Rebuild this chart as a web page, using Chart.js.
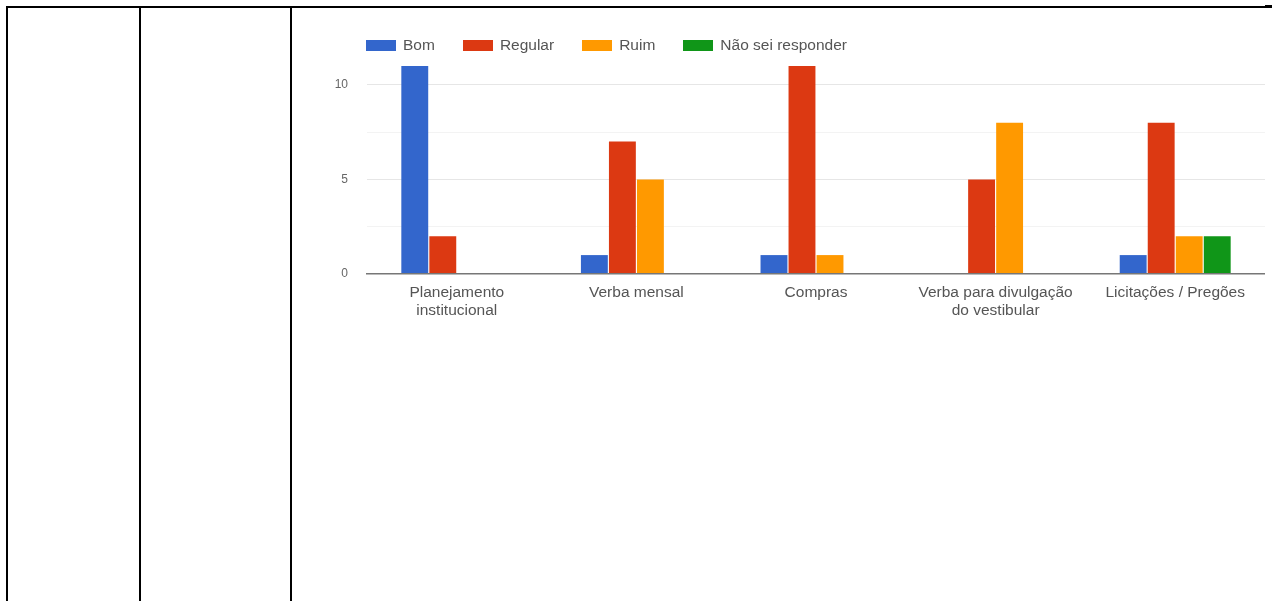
<!DOCTYPE html>
<html>
<head>
<meta charset="utf-8">
<script src="https://cdn.jsdelivr.net/npm/chart.js@4/dist/chart.umd.min.js"></script>
<style>
    body { margin: 0; background: #fff; width: 1272px; height: 601px; overflow: hidden; position: relative; font-family: "Liberation Sans", Arial, sans-serif; }
    .line { position: absolute; background: #000; }
    #chartContainer { position: absolute; left: 292px; top: 8px; width: 973px; height: 340px; }
    #legend { position: absolute; left: 366px; top: 36px; display: flex; align-items: center; font-size: 15.5px; color: #555; }
    .legItem { display: flex; align-items: center; margin-right: 28px; }
    .legBox { width: 30px; height: 11px; margin-right: 7px; }
</style>
</head>
<body>
<!-- table borders -->
<div class="line" style="left:6px;top:6px;width:1259px;height:2px;"></div>
<div class="line" style="left:1265px;top:5px;width:7px;height:3px;"></div>
<div class="line" style="left:6px;top:6px;width:2px;height:595px;"></div>
<div class="line" style="left:139px;top:6px;width:2px;height:595px;"></div>
<div class="line" style="left:290px;top:6px;width:2px;height:595px;"></div>

<div id="chartContainer"><canvas id="chart"></canvas></div>
<div id="legend"></div>

<script>
// categorias (eixo x)
const categories = [
    ["Planejamento", "institucional"],
    "Verba mensal",
    "Compras",
    ["Verba para divulgação", "do vestibular"],
    "Licitações / Pregões"
];

const seriesNames = ["Bom", "Regular", "Ruim", "Não sei responder"];
const seriesColors = ["#3366cc", "#dc3912", "#ff9900", "#109618"];

// valores de cada resposta por categoria
const bomValues = [11, 1, 1, 0, 1];
const regularValues = [2, 7, 11, 5, 8];
const ruimValues = [0, 5, 1, 8, 2];
const naoSeiValues = [0, 0, 0, 0, 2];

const yTickLabels = [0, 5, 10];

function buildChart(){
    const allValues = [bomValues, regularValues, ruimValues, naoSeiValues];

    const datasets = seriesNames.map(function (name, i){
        return {
            label: name,
            data: allValues[i],
            backgroundColor: seriesColors[i],
            borderWidth: 0,
            categoryPercentage: 0.624,
            barPercentage: 0.96
        };
    });

    const config = {
        type: 'bar',
        data: { labels: categories, datasets: datasets },
        options: {
            responsive: true,
            maintainAspectRatio: false,
            animation: false,
            layout: { padding: { top: 39, bottom: 14, left: 0, right: 0 } },
            plugins: { legend: { display: false }, tooltip: { enabled: false } },
            scales: {
                x: {
                    grid: { display: false, drawTicks: false },
                    border: { display: true, color: '#777', width: 1.5, z: 1 },
                    ticks: {
                        color: '#555',
                        font: { family: 'Liberation Sans', size: 15.5 },
                        padding: 9,
                        maxRotation: 0,
                        autoSkip: false
                    },
                    afterFit: function (scale){ scale.height = 60; }
                },
                y: {
                    min: 0,
                    max: 12,
                    border: { display: false },
                    grid: {
                        drawTicks: false,
                        color: function (ctx){
                            const v = ctx.tick.value;
                            if (v === 0 || v > 10) return 'rgba(0,0,0,0)';
                            if (v % 5 === 0) return '#e6e6e6';
                            return '#f3f3f3';
                        }
                    },
                    ticks: {
                        stepSize: 2.5,
                        color: '#666',
                        font: { family: 'Liberation Sans', size: 12 },
                        padding: 19,
                        callback: function (value){
                            return yTickLabels.indexOf(value) >= 0 ? String(value) : '';
                        }
                    },
                    afterFit: function (scale){ scale.width = 75; }
                }
            }
        }
    };

    displayChart(config);
}

// legenda em HTML montada a partir dos datasets
function buildLegend(chart){
    let content = "";
    chart.data.datasets.forEach(function (ds){
        content += "<div class='legItem'><span class='legBox' style='background:" + ds.backgroundColor + "'></span>" + ds.label + "</div>";
    });
    document.getElementById('legend').innerHTML = content;
}

function displayChart(config){
    let chart = new Chart(document.getElementById('chart'), config);
    buildLegend(chart);
}

buildChart();
</script>
</body>
</html>
